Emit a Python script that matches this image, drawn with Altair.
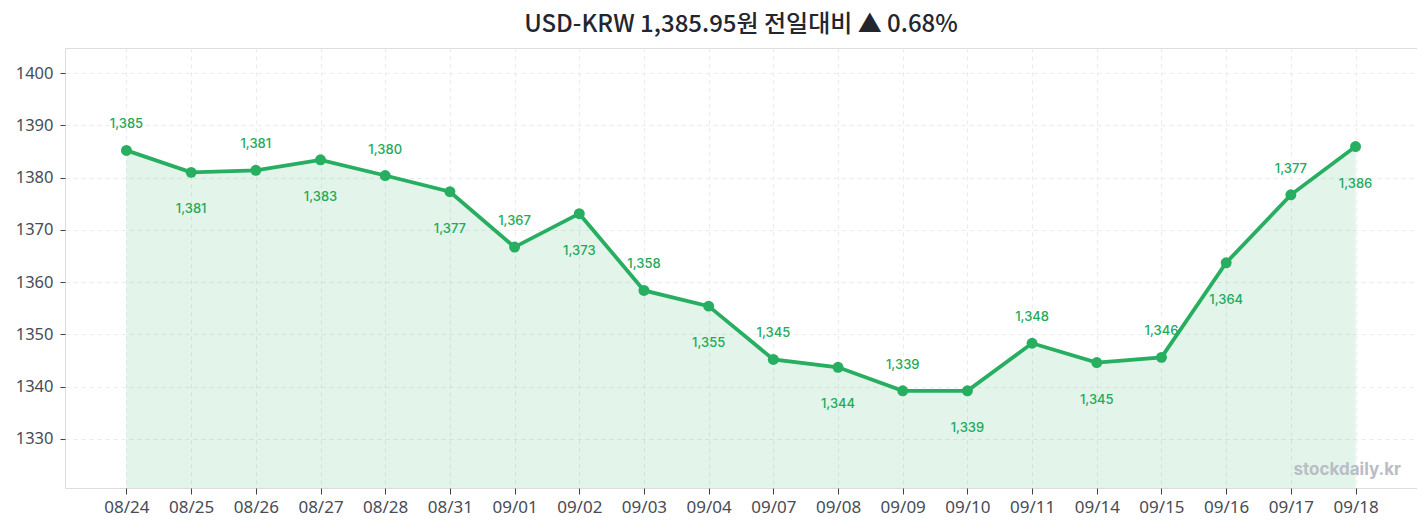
import altair as alt
import pandas as pd

dates = ["08/24", "08/25", "08/26", "08/27", "08/28", "08/31", "09/01", "09/02", "09/03", "09/04",
         "09/07", "09/08", "09/09", "09/10", "09/11", "09/14", "09/15", "09/16", "09/17", "09/18"]
rates = [1385.2, 1381.0, 1381.4, 1383.4, 1380.4, 1377.3, 1366.7, 1373.1, 1358.4, 1355.4,
         1345.2, 1343.7, 1339.2, 1339.2, 1348.3, 1344.6, 1345.6, 1363.7, 1376.7, 1385.95]
y_ticks = [1330, 1340, 1350, 1360, 1370, 1380, 1390, 1400]
title_text = "USD-KRW 1,385.95원 전일대비 ▲ 0.68%"
watermark = "stockdaily.kr"

GREEN = "#27ae60"
W, H = 1352, 440

df = pd.DataFrame({"date": dates, "rate": rates})
df["pos"] = ["up" if i % 2 == 0 else "down" for i in range(len(df))]

x = alt.X("date:O", sort=dates, title=None,
          scale=alt.Scale(type="point", padding=0.95),
          axis=alt.Axis(labelAngle=0, grid=True, gridDash=[4, 4], gridColor="#e9ebef",
                        tickColor="#3d424b", tickSize=6, domain=False,
                        labelFontSize=17, labelColor="#474c56", labelPadding=5,
                        labelFont="Noto Sans"))
y = alt.Y("rate:Q", title=None,
          scale=alt.Scale(domain=[1320.6, 1404.8], nice=False, zero=False),
          axis=alt.Axis(values=y_ticks, format="d", grid=True, gridDash=[4, 4], gridColor="#e9ebef",
                        tickColor="#3d424b", tickSize=5, domain=False,
                        labelFontSize=16.5, labelColor="#474c56", labelPadding=7,
                        labelFont="Noto Sans"))

base = alt.Chart(df)

area = base.mark_area(color=GREEN, opacity=0.13).encode(
    x=x, y=y, y2=alt.datum(1320.6))
line = base.mark_line(color=GREEN, strokeWidth=3.8).encode(x=x, y=y)
points = base.mark_circle(color=GREEN, size=120, opacity=1).encode(x=x, y=y)

lbl_up = base.transform_filter(alt.datum.pos == "up").mark_text(
    color="#22a95a", fontSize=13, font="Inter", fontWeight=500, dy=-26, baseline="middle"
).encode(x=x, y=y, text=alt.Text("rate:Q", format=",.0f"))
lbl_down = base.transform_filter(alt.datum.pos == "down").mark_text(
    color="#22a95a", fontSize=13, font="Inter", fontWeight=500, dy=37, baseline="middle"
).encode(x=x, y=y, text=alt.Text("rate:Q", format=",.0f"))

mark_wm = alt.Chart(pd.DataFrame({"t": [watermark]})).mark_text(
    color="#b9bdc4", fontSize=17, font="Inter", fontWeight=700, align="right", baseline="middle"
).encode(x=alt.value(W - 16), y=alt.value(H - 18), text="t:N")

chart = alt.layer(area, line, points, lbl_up, lbl_down, mark_wm).properties(
    width=W, height=H,
    autosize=alt.AutoSizeParams(type="none"),
    padding={"left": 57, "top": 40, "right": 0, "bottom": 28},
    title=alt.TitleParams(title_text, fontSize=24, font="Noto Sans CJK KR", fontWeight=500,
                          color="#23262d", anchor="middle", offset=11),
).configure_view(fill="#f7f8fa", stroke="#dfe1e7", strokeWidth=1.5
).configure(background="white")

chart.save("out.html", embed_options={"renderer": "svg", "actions": False})
